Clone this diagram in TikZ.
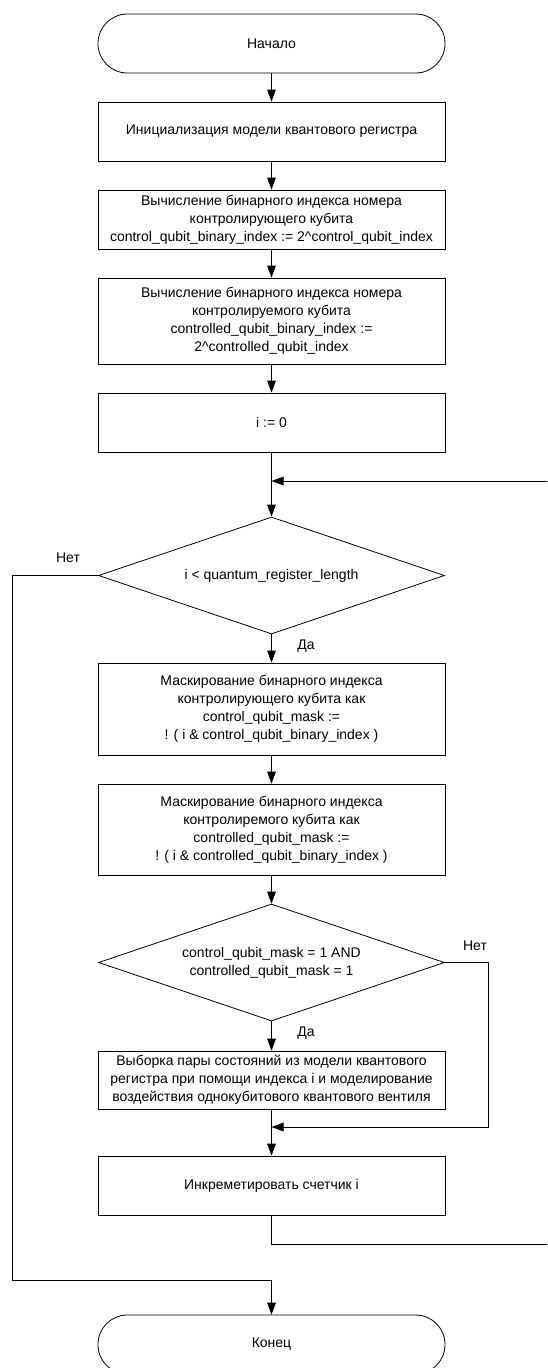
\documentclass[tikz,border=0pt]{standalone}
\usepackage{fontspec}
\setmainfont{Liberation Sans}
\usetikzlibrary{shapes.geometric,arrows.meta}
\newcommand{\shrift}{\fontsize{10.5}{13.5}\selectfont}
\tikzset{
  blok/.style={draw, rectangle, minimum width=260.25pt, minimum height=44.25pt,
    align=center, inner sep=2pt, font=\shrift},
  ovalblok/.style={blok, rounded corners=22pt},
  uslovie/.style={draw, diamond, shape aspect=2.96, minimum width=259.5pt,
    minimum height=87.75pt, inner sep=0pt, align=center, font=\shrift},
  metka/.style={font=\shrift},
  strelka/.style={-{Triangle[length=9pt,width=6.5pt]}}
}
\begin{document}
\begin{tikzpicture}[x=0.75pt, y=-0.75pt, line width=0.6pt]
      \clip (0,0) rectangle (547,1368);
      \draw
        (271.5,43.5) node[ovalblok] (0){Начало}
        (271.5,131.5) node[blok] (1){Инициализация модели квантового регистра}
        (271.5,219.5) node[blok] (2){Вычисление бинарного индекса номера\\контролирующего кубита\\control\_qubit\_binary\_index := 2\textasciicircum control\_qubit\_index}
        (271.5,321) node[blok, minimum height=64.5pt] (3){Вычисление бинарного индекса номера\\контролируемого кубита\\controlled\_qubit\_binary\_index :=\\2\textasciicircum controlled\_qubit\_index}
        (271.5,422.5) node[blok] (4){i := 0}
        (271.5,575.5) node[uslovie] (5){i < quantum\_register\_length}
        (271.5,709) node[blok, minimum height=69pt] (6){Маскирование бинарного индекса\\контролирующего кубита как\\control\_qubit\_mask :=\\! ( i \& control\_qubit\_binary\_index )}
        (271.5,829.5) node[blok, minimum height=68.25pt] (7){Маскирование бинарного индекса\\контролиремого кубита как\\controlled\_qubit\_mask :=\\! ( i \& controlled\_qubit\_binary\_index )}
        (271.5,962.5) node[uslovie] (8){control\_qubit\_mask = 1 AND\\controlled\_qubit\_mask = 1}
        (271.5,1080) node[blok, minimum height=43.5pt] (9){Выборка пары состояний из модели квантового\\регистра при помощи индекса i и моделирование\\воздействия однокубитового квантового вентиля}
        (271.5,1185.5) node[blok] (10){Инкреметировать счетчик i}
        (271.5,1344.5) node[ovalblok] (11){Конец};
      \draw
        (68,558) node[metka] (n1){Нет}
        (306,646) node[metka] (d1){Да}
        (475,946) node[metka] (n2){Нет}
        (306,1033) node[metka] (d2){Да}
        (271.5,481) coordinate (a)
        (560,481) coordinate (b)
        (560,1244) coordinate (c)
        (12,1280) coordinate (d)
        (271.5,1280) coordinate (e)
        (488,1127) coordinate (f)
        (271.5,1127) coordinate (g);
      \begin{scope}[strelka]
        \draw (0) to (1);
        \draw (1) to (2);
        \draw (2) to (3);
        \draw (3) to (4);
        \draw (4) to (5);
        \draw (5) to (6);
        \draw (6) to (7);
        \draw (7) to (8);
        \draw (8) to (9);
        \draw (9) to (10);
        \draw (10) |- (c) -- (b) -- (a);
        \draw (5.west) -| (d) -- (e) -- (11);
        \draw (8.east) -| (f) -- (g);
      \end{scope}
    \end{tikzpicture}
\end{document}
